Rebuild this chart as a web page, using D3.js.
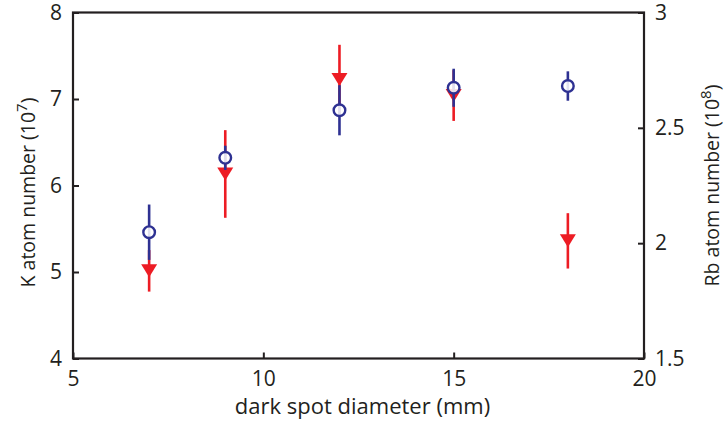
<!DOCTYPE html>
<html>
<head>
<meta charset="utf-8">
<script src="https://cdn.jsdelivr.net/npm/d3@7"></script>
<style>
  body { margin: 0; background: #fff; }
  text { font-family: "Open Sans", "Noto Sans", sans-serif; fill: #231f20; }
</style>
</head>
<body>
<div id="chart"></div>
<script>
// dark spot diameter (mm)
const diameters = [7, 9, 12, 15, 18];
// K atom number (10^7), blue circles, left axis
const kAtoms = [5.46, 6.32, 6.87, 7.13, 7.15];
const kErr = [0.32, 0.14, 0.29, 0.22, 0.17];
// Rb atom number (10^8), red triangles, right axis
const rbAtoms = [1.88, 2.30, 2.71, 2.64, 2.01];
const rbErr = [0.09, 0.19, 0.15, 0.11, 0.12];

const xTicks = [5, 10, 15, 20];
const kTicks = [4, 5, 6, 7, 8];
const rbTicks = [1.5, 2, 2.5, 3];

const width = 725, height = 423;
const margin = { top: 12.5, right: 81, bottom: 64.5, left: 73 };
const blue = "#2e3192", red = "#ed1c24";

const svg = d3.select("#chart")
    .append("svg")
    .attr("width", width)
    .attr("height", height);

const x = d3.scaleLinear().domain([5, 20]).range([margin.left, width - margin.right]);
const yK = d3.scaleLinear().domain([4, 8]).range([height - margin.bottom, margin.top]);
const yRb = d3.scaleLinear().domain([1.5, 3]).range([height - margin.bottom, margin.top]);

// axes with inward ticks
const tickFont = 21;
const gx = svg.append("g")
    .attr("transform", `translate(0,${height - margin.bottom})`)
    .call(d3.axisBottom(x).tickValues(xTicks).tickFormat(d3.format("")).tickSize(-6).tickSizeOuter(0).tickPadding(13));
const gl = svg.append("g")
    .attr("transform", `translate(${margin.left},0)`)
    .call(d3.axisLeft(yK).tickValues(kTicks).tickFormat(d3.format("")).tickSize(-6).tickSizeOuter(0).tickPadding(11));
const gr = svg.append("g")
    .attr("transform", `translate(${width - margin.right},0)`)
    .call(d3.axisRight(yRb).tickValues(rbTicks).tickFormat(d3.format("")).tickSize(-6).tickSizeOuter(0).tickPadding(11));

[gx, gl, gr].forEach(g => {
    g.select(".domain").remove();
    g.selectAll(".tick line").attr("stroke", "#231f20").attr("stroke-width", 2);
    g.selectAll(".tick text")
        .attr("font-size", tickFont)
        .attr("font-family", "Open Sans")
        .attr("fill", "#231f20");
});

// frame
svg.append("rect")
    .attr("x", margin.left)
    .attr("y", margin.top)
    .attr("width", width - margin.left - margin.right)
    .attr("height", height - margin.top - margin.bottom)
    .attr("fill", "none")
    .attr("stroke", "#231f20")
    .attr("stroke-width", 2.2);

// Rb series (drawn first, blue goes on top)
const rbData = diameters.map((d, i) => ({ x: d, y: rbAtoms[i], e: rbErr[i] }));
svg.append("g").selectAll("line")
    .data(rbData).enter().append("line")
    .attr("x1", d => x(d.x)).attr("x2", d => x(d.x))
    .attr("y1", d => yRb(d.y - d.e)).attr("y2", d => yRb(d.y + d.e))
    .attr("stroke", red).attr("stroke-width", 2.6);
svg.append("g").selectAll("path")
    .data(rbData).enter().append("path")
    .attr("d", d => {
        const cx = x(d.x), cy = yRb(d.y);
        return `M${cx - 8},${cy - 6.5}L${cx + 8},${cy - 6.5}L${cx},${cy + 6.5}Z`;
    })
    .attr("fill", red);

// K series
const kData = diameters.map((d, i) => ({ x: d, y: kAtoms[i], e: kErr[i] }));
svg.append("g").selectAll("line")
    .data(kData).enter().append("line")
    .attr("x1", d => x(d.x)).attr("x2", d => x(d.x))
    .attr("y1", d => yK(d.y - d.e)).attr("y2", d => yK(d.y + d.e))
    .attr("stroke", blue).attr("stroke-width", 2.6);
svg.append("g").selectAll("circle")
    .data(kData).enter().append("circle")
    .attr("cx", d => x(d.x)).attr("cy", d => yK(d.y))
    .attr("r", 5.8)
    .attr("fill", "#fff").attr("fill-opacity", 0.85)
    .attr("stroke", blue).attr("stroke-width", 2.4);

// axis titles
svg.append("text")
    .attr("x", (margin.left + width - margin.right) / 2 + 4)
    .attr("y", 414)
    .attr("text-anchor", "middle")
    .attr("font-size", 22)
    .text("dark spot diameter (mm)");

const kLabel = svg.append("text")
    .attr("transform", `translate(35,${(margin.top + height - margin.bottom) / 2 + 7}) rotate(-90)`)
    .attr("text-anchor", "middle")
    .attr("font-size", 19.5);
kLabel.append("tspan").text("K atom number (10");
kLabel.append("tspan").attr("dy", -8).attr("font-size", 15).text("7");
kLabel.append("tspan").attr("dy", 8).text(")");

const rbLabel = svg.append("text")
    .attr("transform", `translate(719,${(margin.top + height - margin.bottom) / 2}) rotate(-90)`)
    .attr("text-anchor", "middle")
    .attr("font-size", 19.5);
rbLabel.append("tspan").text("Rb atom number (10");
rbLabel.append("tspan").attr("dy", -8).attr("font-size", 15).text("8");
rbLabel.append("tspan").attr("dy", 8).text(")");
</script>
</body>
</html>
